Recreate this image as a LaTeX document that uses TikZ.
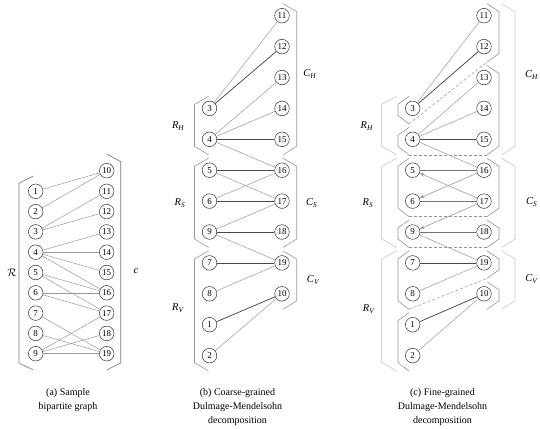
\documentclass[tikz,border=0pt]{standalone}
\usepackage{fontspec}
\setmainfont{Liberation Serif}
\usetikzlibrary{arrows.meta}
\begin{document}
\begin{tikzpicture}[x=1pt,y=-1pt,
  vtx/.style={circle,draw=black!80,line width=0.5pt,minimum size=14.6pt,inner sep=0pt,font=\fontsize{9}{9}\selectfont,fill=white},
  ledge/.style={draw=black!40,line width=0.5pt},
  medge/.style={draw=black!72,line width=0.75pt},
  sedge/.style={draw=black!55,line width=0.8pt},
  brka/.style={draw=black!55,line width=0.6pt},
  brkb/.style={draw=black!40,line width=0.6pt},
  brkout/.style={draw=black!22,line width=0.6pt},
  brkin/.style={draw=black!42,line width=0.6pt},
  dsh/.style={draw=black!42,dash pattern=on 3pt off 2pt,line width=0.5pt},
  arr/.style={-{Stealth[length=5pt,width=3.6pt]}},
  lbl/.style={font=\fontsize{10.5}{12}\selectfont},
  captxt/.style={align=center,font=\fontsize{10}{14}\selectfont}
]
\useasboundingbox (0,0) rectangle (540,428);

% ---------------- panel (a) ----------------
\foreach \i in {1,...,9} \node[vtx] (a\i) at (35.7,{191.3+(\i-1)*20.3}) {\i};
\node[vtx] (a10) at (106.7,170.7) {10};
\foreach \i in {11,...,19} \node[vtx] (a\i) at (106.7,{191.3+(\i-11)*20.3}) {\i};
\foreach \u/\v in {1/10,2/10,3/11,3/12,4/13,4/14,4/15,4/16,5/16,5/17,6/16,6/17,7/19,8/19,9/17,9/18,9/19}
  \draw[ledge] (a\u) -- (a\v);
\draw[brka] (33.3,176) -- (19,183.3) -- (19,363) -- (33.3,370);
\draw[brka] (106.7,154) -- (120.7,161.7) -- (120.7,363) -- (106.7,370);
\node[lbl] (lR) at (12,273) {$\mathcal{R}$};
\node[lbl] (lC) at (136,271) {\textit{c}};
\node[captxt] (capa) at (68,400) {(a) Sample\\bipartite graph};

% ---------------- panel (b) ----------------
\foreach \n/\k in {11/0,12/1,13/2,14/3,15/4,16/5,17/6,18/7,19/8,10/9}
  \node[vtx] (b\n) at (282,{15.7+\k*30.9}) {\n};
\foreach \n/\k in {3/3,4/4,5/5,6/6,9/7,7/8,8/9,1/10,2/11}
  \node[vtx] (b\n) at (209.5,{15.7+\k*30.9}) {\n};
\foreach \u/\v in {3/11,4/13,4/14,4/16,5/17,6/16,9/17,9/19,8/19,2/10}
  \draw[ledge] (b\u) -- (b\v);
\foreach \u/\v in {3/12,4/15,5/16,6/17,9/18,7/19,1/10}
  \draw[medge] (b\u) -- (b\v);
\draw[brkb] (208.5,96.4) -- (194.5,104.4) -- (194.5,146.3) -- (208.5,154.8);
\draw[brkb] (208.5,158.2) -- (194.5,166.2) -- (194.5,239.0) -- (208.5,247.5);
\draw[brkb] (208.5,250.9) -- (194.5,258.9) -- (194.5,362.6) -- (208.5,371.1);
\draw[brkb] (283,3.7) -- (296.7,11.7) -- (296.7,146.3) -- (283,154.8);
\draw[brkb] (283,158.2) -- (296.7,166.2) -- (296.7,239.0) -- (283,247.5);
\draw[brkb] (283,250.9) -- (296.7,258.9) -- (296.7,300.8) -- (283,309.3);
\node[lbl] (bRH) at (178.3,126) {\textit{R}\textsubscript{\textit{H}}};
\node[lbl] (bRS) at (180,203) {\textit{R}\textsubscript{\textit{S}}};
\node[lbl] (bRV) at (178.3,308.3) {\textit{R}\textsubscript{\textit{V}}};
\node[lbl] (bCH) at (310,74) {\textit{C}\textsubscript{\textit{H}}};
\node[lbl] (bCS) at (311.7,203.3) {\textit{C}\textsubscript{\textit{S}}};
\node[lbl] (bCV) at (313.3,280) {\textit{C}\textsubscript{\textit{V}}};
\node[captxt] (capb) at (237.5,407) {(b) Coarse-grained\\Dulmage-Mendelsohn\\decomposition};

% ---------------- panel (c) ----------------
\foreach \n/\k in {11/0,12/1,13/2,14/3,15/4,16/5,17/6,18/7,19/8,10/9}
  \node[vtx] (c\n) at (484,{15.7+\k*30.9}) {\n};
\foreach \n/\k in {3/3,4/4,5/5,6/6,9/7,7/8,8/9,1/10,2/11}
  \node[vtx] (c\n) at (412.7,{15.7+\k*30.9}) {\n};
% outer brackets
\draw[brkout] (396.7,96.4) -- (381.7,104.4) -- (381.7,146.3) -- (396.7,154.8);
\draw[brkout] (396.7,158.2) -- (381.7,166.2) -- (381.7,239.0) -- (396.7,247.5);
\draw[brkout] (396.7,250.9) -- (381.7,258.9) -- (381.7,362.6) -- (396.7,371.1);
\draw[brkout] (501.7,3.7) -- (515,11.7) -- (515,146.3) -- (501.7,154.8);
\draw[brkout] (501.7,158.2) -- (515,166.2) -- (515,239.0) -- (501.7,247.5);
\draw[brkout] (501.7,250.9) -- (515,258.9) -- (515,300.8) -- (501.7,309.3);
% inner brackets left
\draw[brkin] (409,96.4) -- (398,104.4) -- (398,115.4) -- (409,123.9);
\draw[brkin] (409,127.3) -- (398,135.3) -- (398,146.3) -- (409,154.8);
\draw[brkin] (409,158.2) -- (398,166.2) -- (398,208.1) -- (409,216.6);
\draw[brkin] (409,220.0) -- (398,228.0) -- (398,239.0) -- (409,247.5);
\draw[brkin] (409,250.9) -- (398,258.9) -- (398,300.8) -- (409,309.3);
\draw[brkin] (409,312.7) -- (398,320.7) -- (398,362.6) -- (409,371.1);
% inner brackets right
\draw[brkin] (487,3.7) -- (499,11.7) -- (499,53.6) -- (487,62.1);
\draw[brkin] (487,65.5) -- (499,73.5) -- (499,146.3) -- (487,154.8);
\draw[brkin] (487,158.2) -- (499,166.2) -- (499,208.1) -- (487,216.6);
\draw[brkin] (487,220.0) -- (499,228.0) -- (499,239.0) -- (487,247.5);
\draw[brkin] (487,250.9) -- (499,258.9) -- (499,269.9) -- (487,278.4);
\draw[brkin] (487,281.8) -- (499,289.8) -- (499,300.8) -- (487,309.3);
% dashed separators
\coordinate (dH1) at (409,123.9);
\coordinate (dH2) at (487,62.1);
\coordinate (dA1) at (409,154.8);
\coordinate (dA2) at (487,154.8);
\coordinate (dB1) at (409,216.6);
\coordinate (dB2) at (487,216.6);
\coordinate (dC1) at (409,247.5);
\coordinate (dC2) at (487,247.5);
\coordinate (dV1) at (409,309.3);
\coordinate (dV2) at (487,278.4);
\draw[dsh] (dH1) -- (dH2);
\draw[dsh] (dA1) -- (dA2);
\draw[dsh] (dB1) -- (dB2);
\draw[dsh] (dC1) -- (dC2);
\draw[dsh] (dV1) -- (dV2);
% edges
\foreach \u/\v in {3/11,4/13,4/14,4/16,9/19,8/19,2/10}
  \draw[ledge] (c\u) -- (c\v);
\foreach \u/\v in {3/12,4/15,7/19,1/10}
  \draw[medge] (c\u) -- (c\v);
\foreach \u/\v in {17/5,16/6,17/9}
  \draw[ledge,arr,fill=black!40] (c\u) -- (c\v);
\foreach \u/\v in {16/5,17/6,18/9}
  \draw[sedge] (c\u) -- (c\v);
\node[lbl] (cRH) at (367,126) {\textit{R}\textsubscript{\textit{H}}};
\node[lbl] (cRS) at (368,203) {\textit{R}\textsubscript{\textit{S}}};
\node[lbl] (cRV) at (369,309) {\textit{R}\textsubscript{\textit{V}}};
\node[lbl] (cCH) at (531.7,75) {\textit{C}\textsubscript{\textit{H}}};
\node[lbl] (cCS) at (531.7,202) {\textit{C}\textsubscript{\textit{S}}};
\node[lbl] (cCV) at (531.7,279) {\textit{C}\textsubscript{\textit{V}}};
\node[captxt] (capc) at (442.5,407) {(c) Fine-grained\\Dulmage-Mendelsohn\\decomposition};
\end{tikzpicture}
\end{document}
